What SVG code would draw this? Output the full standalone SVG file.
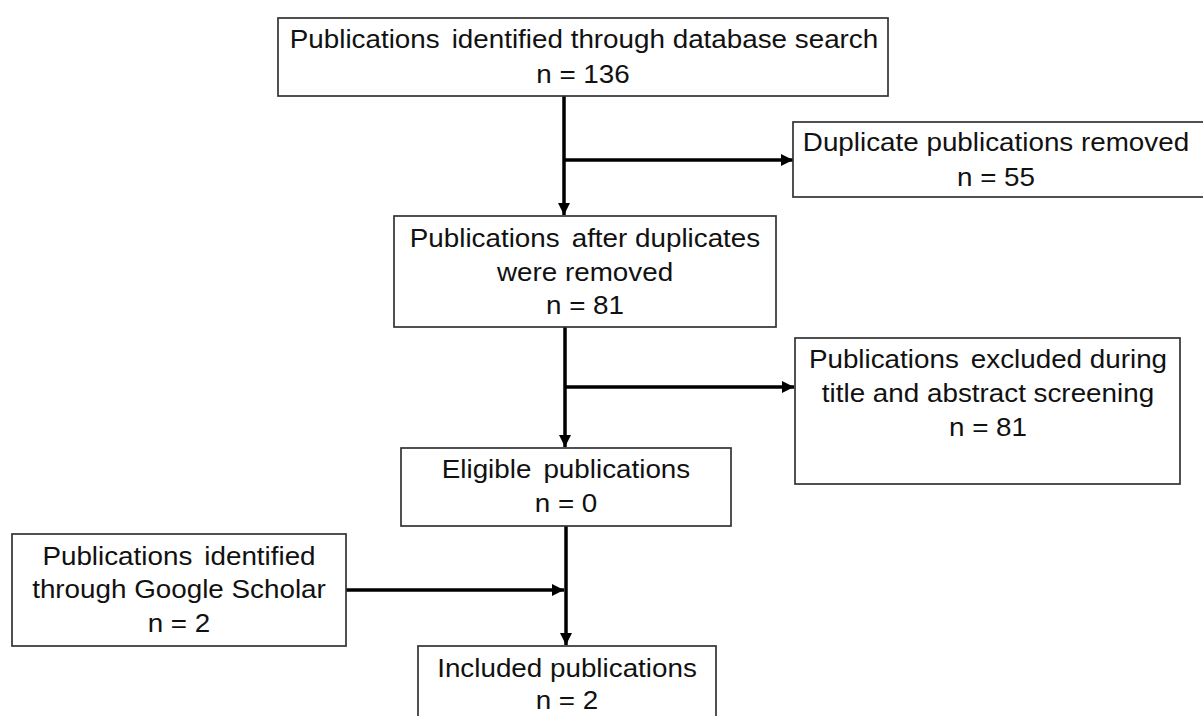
<svg xmlns="http://www.w3.org/2000/svg" width="1203" height="716" viewBox="0 0 1203 716">
<style>
.box{fill:#fff;stroke:#333;stroke-width:1.7}
.t{font-family:"Liberation Sans",Arial,sans-serif;font-size:26px;fill:#111;text-anchor:middle;transform-box:fill-box;transform-origin:center;transform:scaleX(1.07)}
.c{fill:none;stroke:#000;stroke-width:3.5}
</style>
<defs>
<marker id="ah" markerUnits="userSpaceOnUse" markerWidth="14" markerHeight="12" refX="12" refY="6" orient="auto">
<path d="M0,0 L12,6 L0,12 Z" fill="#000"/>
</marker>
</defs>
<rect width="1203" height="716" fill="#fff"/>
<g id="connectors">
<line class="c" x1="564" y1="96" x2="564" y2="215" marker-end="url(#ah)"/>
<line class="c" x1="564" y1="160" x2="793" y2="160" marker-end="url(#ah)"/>
<line class="c" x1="565" y1="327" x2="565" y2="447" marker-end="url(#ah)"/>
<line class="c" x1="565" y1="387" x2="794" y2="387" marker-end="url(#ah)"/>
<line class="c" x1="566" y1="526" x2="566" y2="645" marker-end="url(#ah)"/>
<line class="c" x1="346" y1="590" x2="564" y2="590" marker-end="url(#ah)"/>
</g>
<g id="n1">
<rect class="box" x="278" y="18" width="610" height="78"/>
<text class="t" x="584" y="48">Publications <tspan dx="4">identified through database search</tspan></text>
<text class="t" x="583" y="83">n = 136</text>
</g>
<g id="n2">
<rect class="box" x="793" y="122" width="420" height="75"/>
<text class="t" x="996" y="151">Duplicate publications removed</text>
<text class="t" x="996" y="186">n = 55</text>
</g>
<g id="n3">
<rect class="box" x="394" y="216" width="382" height="111"/>
<text class="t" x="585" y="247">Publications <tspan dx="4">after duplicates</tspan></text>
<text class="t" x="585" y="281">were removed</text>
<text class="t" x="585" y="314">n = 81</text>
</g>
<g id="n4">
<rect class="box" x="795" y="338" width="385" height="146"/>
<text class="t" x="988" y="368">Publications <tspan dx="4">excluded during</tspan></text>
<text class="t" x="988" y="402">title and abstract screening</text>
<text class="t" x="988" y="436">n = 81</text>
</g>
<g id="n5">
<rect class="box" x="401" y="448" width="330" height="78"/>
<text class="t" x="566" y="478">Eligible <tspan dx="4">publications</tspan></text>
<text class="t" x="566" y="512">n = 0</text>
</g>
<g id="n6">
<rect class="box" x="12" y="534" width="334" height="112"/>
<text class="t" x="179" y="565">Publications <tspan dx="4">identified</tspan></text>
<text class="t" x="179" y="598">through Google Scholar</text>
<text class="t" x="179" y="632">n = 2</text>
</g>
<g id="n7">
<rect class="box" x="418" y="646" width="298" height="90"/>
<text class="t" x="567" y="677">Included publications</text>
<text class="t" x="567" y="709">n = 2</text>
</g>
</svg>
